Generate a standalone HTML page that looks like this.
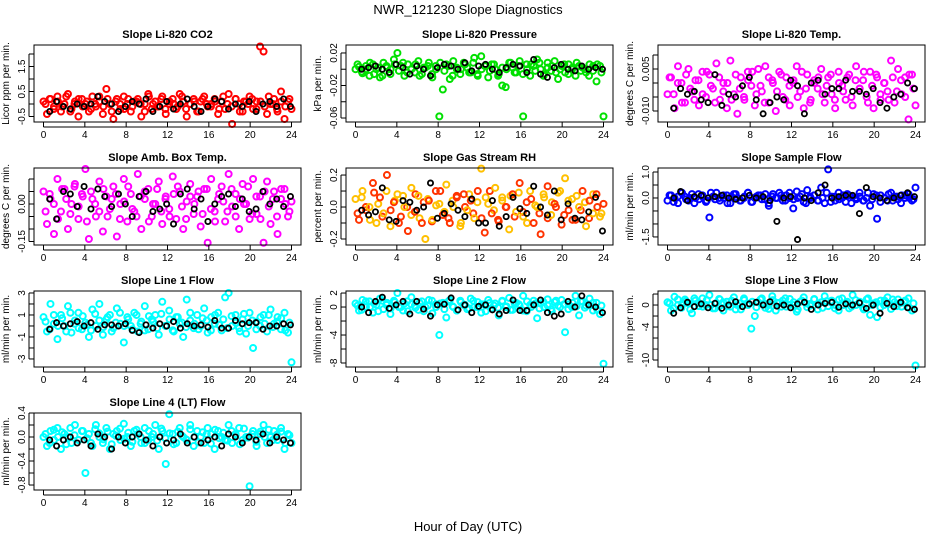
<!DOCTYPE html>
<html><head><meta charset="utf-8">
<style>
html,body{margin:0;padding:0;background:#fff;}
svg{display:block;font-family:"Liberation Sans",sans-serif;}
</style></head>
<body>
<svg id="chart" width="936" height="540" viewBox="0 0 936 540" xmlns="http://www.w3.org/2000/svg">
<text x="468" y="14" text-anchor="middle" font-size="13">NWR_121230  Slope Diagnostics</text>
<text x="468" y="531" text-anchor="middle" font-size="13">Hour of Day (UTC)</text>
</svg>
<script>
const xTicks = [0,4,8,12,16,20,24];
const titles = ["Slope Li-820 CO2","Slope Li-820 Pressure","Slope Li-820 Temp.","Slope Amb. Box Temp.","Slope Gas Stream RH","Slope Sample Flow","Slope Line 1 Flow","Slope Line 2 Flow","Slope Line 3 Flow","Slope Line 4 (LT) Flow"];
const yTitles = ["Licor ppm per min.","kPa per min.","degrees C per min.","degrees C per min.","percent per min.","ml/min per min.","ml/min per min.","ml/min per min.","ml/min per min.","ml/min per min."];
const yMin = [-0.72,-0.0649,-0.01393,-0.164,-0.2375,-1.81,-3.73,-8.57,-11.27,-0.883];
const yMax = [2.36,0.0298,0.01357,0.144,0.244,1.154,3.18,2.29,2.55,0.4];
const yTickVals = [
 [-0.5,0,0.5,1,1.5,2],[-0.06,-0.04,-0.02,0,0.02],[-0.01,-0.005,0,0.005,0.01],
 [-0.15,-0.1,-0.05,0,0.05,0.1],[-0.2,-0.1,0,0.1,0.2],[-1.5,-1,-0.5,0,0.5,1],
 [-3,-2,-1,0,1,2,3],[-8,-6,-4,-2,0,2],[-10,-8,-6,-4,-2,0,2],[-0.8,-0.6,-0.4,-0.2,0,0.2,0.4]];
const yTickLabels = [
 ["-0.5","","0.5","","1.5",""],["-0.06","","-0.02","","0.02"],["-0.010","","","0.005",""],
 ["-0.15","","","0.00","",""],["-0.2","","0.0","","0.2"],["-1.5","","","0.0","","1.0"],
 ["-3","","-1","","1","","3"],["-8","","-4","","0","2"],["-10","","","-4","","0",""],["-0.8","","-0.4","","0.0","","0.4"]];
const colors = ["#ff0000","#00e000","#ff00ff","#ff00ff","rh","#0000ff","#00ffff","#00ffff","#00ffff","#00ffff"];

const co2 = [0.1,-0.4,0.2,-0.1,0.3,-0.3,0.0,0.4,-0.2,0.1,-0.5,0.2,0.0,-0.3,0.3,-0.1,0.1,-0.4,0.6,0.0,-0.6,0.2,-0.2,0.3,0.0,-0.3,0.1,0.2,-0.5,0.0,0.4,-0.2,0.1,-0.1,0.3,-0.4,0.0,0.2,-0.2,0.4,0.1,-0.5,0.0,0.2,-0.3,0.1,0.3,-0.1,0.0,0.2,-0.4,0.1,-0.2,0.4,-0.8,0.2,0.0,-0.3,0.1,0.3,-0.2,0.1,2.3,2.1,-0.4,0.0,0.2,-0.3,0.5,-0.6,0.1,-0.2];
const co2B = [0.0,0.2,-0.2,0.1,-0.1,0.3,-0.3,0.0,0.2,-0.1,0.1,-0.2,0.0,0.3,-0.1,0.2,-0.3,0.1,0.0,-0.2,0.2,-0.1,0.1,0.0,-0.3,0.3,0.0,-0.1,0.2,-0.2,0.1,0.0,-0.1,0.3,-0.2,0.0,0.1,-0.3,0.2,0.0,-0.1,0.1,-0.2,0.3,0.0,-0.1,0.2,-0.3,0.1,0.0,0.2,-0.2,0.1,-0.1,0.3,0.0,-0.2,0.1,-0.1,0.2];
const co2K = [-0.3,0.1,-0.1,-0.2,0.0,-0.1,0.0,0.3,0.1,0.0,-0.3,-0.1,0.1,0.0,0.2,-0.3,-0.1,0.1,-0.2,0.0,0.2,-0.1,-0.3,-0.1,0.2,0.1,-0.2,0.0,-0.1,0.1,-0.3,0.0,0.1,-0.1,0.2,-0.1];
const press = [0.0,0.003,-0.005,0.004,-0.008,0.006,0.0,-0.01,0.008,0.002,-0.006,0.012,0.02,0.004,-0.008,0.006,0.0,-0.004,0.01,-0.006,0.002,0.008,-0.01,0.004,-0.058,-0.025,0.006,-0.012,0.01,0.0,-0.006,0.008,0.002,-0.004,0.014,-0.008,0.016,0.004,-0.01,0.006,0.0,-0.006,-0.02,-0.022,0.008,0.002,-0.004,0.01,-0.058,0.006,-0.008,0.004,0.012,0.0,-0.006,0.008,-0.002,0.01,-0.012,0.004,-0.004,0.006,0.0,-0.008,0.004,0.002,-0.004,0.006,-0.002,-0.015,0.004,-0.058];
const pressB = [0.006,-0.003,0.0,0.008,-0.006,0.002,-0.008,0.004,0.0,0.006,-0.002,0.008,-0.004,0.0,0.006,-0.008,0.002,0.004,-0.006,0.0,0.008,-0.002,0.004,-0.008,0.002,0.0,0.006,-0.004,0.008,-0.006,0.0,0.004,-0.002,0.006,-0.008,0.002,0.0,0.008,-0.004,0.004,-0.006,0.0,0.006,-0.002,0.008,-0.008,0.002,0.004,-0.004,0.0,0.006,-0.006,0.002,0.008,-0.002,0.0,-0.008,0.004,0.006,-0.004];
const pressK = [0.0,0.002,0.004,0.0,-0.004,0.006,0.002,-0.006,0.004,0.0,-0.008,0.002,0.006,0.004,0.0,0.008,-0.002,0.004,0.006,0.0,-0.004,0.002,0.006,0.004,-0.004,0.012,-0.006,-0.01,0.002,0.006,0.0,-0.002,0.004,0.0,0.002,0.0];
const temp = [-0.004,0.002,-0.009,0.006,0.0,-0.007,0.005,-0.003,0.001,-0.008,0.004,-0.005,0.003,-0.002,0.007,-0.006,0.0,-0.009,0.008,-0.004,-0.011,0.002,-0.006,0.004,-0.001,-0.008,0.005,-0.003,0.006,-0.007,0.001,-0.010,0.004,-0.005,0.002,-0.008,0.0,0.006,-0.003,-0.009,0.003,-0.006,0.001,-0.002,0.005,-0.007,0.002,-0.004,-0.009,0.004,-0.001,-0.006,0.003,-0.008,0.006,-0.002,0.001,-0.005,0.004,-0.009,0.002,-0.006,0.0,-0.003,0.008,-0.007,0.005,-0.004,0.002,-0.013,0.003,-0.008];
const tempB = [0.002,-0.004,0.0,-0.007,0.003,-0.002,-0.006,0.001,-0.004,0.004,-0.001,-0.007,0.002,-0.003,0.0,-0.006,0.003,-0.002,-0.005,0.001,0.004,-0.004,-0.001,-0.007,0.002,0.0,-0.003,0.003,-0.006,-0.001,0.001,-0.005,0.004,-0.002,-0.007,0.0,0.002,-0.004,-0.001,0.003,-0.006,0.0,-0.003,0.002,-0.005,0.001,-0.002,0.004,-0.007,-0.001,0.003,-0.004,0.0,-0.006,0.002,-0.003,0.001,-0.005,0.003,-0.002];
const tempK = [-0.009,-0.002,-0.004,-0.003,-0.006,-0.007,0.003,-0.008,-0.004,-0.005,-0.001,0.002,-0.006,-0.011,-0.007,-0.005,-0.006,0.001,-0.001,-0.011,0.0,0.001,-0.004,-0.002,-0.002,0.001,-0.003,-0.003,-0.004,-0.002,-0.007,-0.009,-0.005,-0.004,0.0,-0.002];
const amb = [0.05,-0.08,0.02,-0.12,0.1,-0.03,0.06,-0.1,0.0,0.08,-0.06,0.04,0.14,-0.14,0.02,-0.05,0.09,-0.11,0.03,-0.02,0.07,-0.13,0.0,0.1,-0.07,0.04,-0.03,0.12,-0.1,0.02,0.06,-0.05,0.0,0.09,-0.08,0.03,-0.02,0.11,-0.06,0.05,-0.1,0.01,0.08,-0.04,0.03,-0.09,0.06,-0.155,0.1,-0.03,0.02,0.07,-0.07,0.12,-0.01,0.04,-0.1,0.08,0.0,-0.06,0.1,-0.04,0.03,-0.155,0.09,-0.08,0.05,-0.12,0.02,0.06,-0.05,0.01];
const ambB = [-0.03,0.04,0.0,-0.06,0.06,0.02,-0.04,0.07,-0.01,0.03,-0.07,0.05,0.0,-0.03,0.06,-0.05,0.02,0.04,-0.06,0.01,0.07,-0.02,-0.05,0.03,0.05,-0.07,0.0,0.06,-0.03,0.02,-0.05,0.04,0.07,-0.01,-0.06,0.03,0.0,0.05,-0.04,0.06,-0.02,-0.07,0.04,0.01,-0.03,0.06,-0.05,0.02,0.0,0.07,-0.04,0.03,-0.06,0.05,-0.01,0.02,-0.05,0.06,0.0,-0.03];
const ambK = [0.02,-0.06,0.05,0.04,-0.01,0.07,-0.02,0.06,0.03,-0.01,0.04,0.0,-0.05,0.03,0.05,-0.03,-0.02,0.0,-0.08,0.04,0.06,-0.02,0.02,-0.07,0.0,0.03,0.04,-0.01,0.02,-0.03,-0.02,0.05,0.0,0.02,-0.01,0.03];
const rh = [0.05,-0.08,0.1,-0.02,0.0,0.15,-0.1,0.06,-0.04,0.2,-0.12,0.03,0.08,-0.06,0.0,-0.15,0.12,-0.03,0.07,-0.1,-0.2,0.04,-0.08,0.1,0.02,-0.05,0.14,-0.1,0.0,0.06,-0.12,0.08,-0.02,0.04,-0.07,0.1,0.24,-0.16,0.02,-0.04,0.12,-0.09,0.06,0.0,-0.14,0.08,-0.03,0.15,-0.06,0.03,0.1,-0.1,0.0,-0.17,0.06,0.13,-0.05,0.02,0.09,-0.11,0.18,-0.02,0.05,-0.08,0.0,0.1,-0.12,0.04,-0.04,0.08,-0.06,0.02];
const rhB = [-0.04,0.06,0.0,-0.08,0.09,0.02,-0.06,0.1,-0.02,0.04,-0.1,0.07,0.0,-0.05,0.08,-0.07,0.03,0.05,-0.09,0.01,0.1,-0.03,-0.07,0.04,0.07,-0.1,0.0,0.08,-0.04,0.03,-0.07,0.06,0.1,-0.02,-0.08,0.04,0.0,0.07,-0.06,0.09,-0.03,-0.1,0.05,0.01,-0.04,0.08,-0.07,0.03,0.0,0.1,-0.05,0.04,-0.08,0.07,-0.02,0.03,-0.07,0.08,0.0,-0.04];
const rhK = [-0.02,-0.05,-0.03,0.12,-0.08,-0.09,0.04,0.03,-0.02,0.0,0.15,-0.07,-0.04,0.02,-0.02,-0.06,0.05,-0.1,-0.1,0.04,-0.12,-0.06,0.06,-0.01,-0.04,0.13,0.0,-0.05,0.1,-0.08,0.02,-0.07,-0.08,-0.03,0.06,-0.15];
const sflow = [-0.1,0.1,0.0,-0.2,0.2,0.05,-0.1,0.15,0.0,-0.05,0.1,-0.15,-0.75,0.05,0.2,-0.1,0.0,0.1,-0.2,0.15,0.0,-0.1,0.05,0.2,-0.15,0.0,0.1,-0.05,0.15,-0.3,0.05,0.0,0.2,-0.1,0.1,0.0,-0.4,0.25,0.05,-0.15,0.3,0.0,0.1,-0.1,0.4,-0.2,1.1,0.05,-0.1,0.2,0.0,-0.15,0.1,0.05,-0.05,0.2,-0.1,0.0,-0.3,0.15,-0.8,0.1,0.0,-0.1,0.2,0.05,-0.05,0.1,0.0,0.15,-0.1,0.4];
const sflowB = [0.1,-0.15,0.05,0.2,-0.05,0.0,-0.2,0.15,0.05,-0.1,0.2,-0.05,0.0,0.1,-0.2,0.05,0.15,-0.1,0.0,0.2,-0.15,0.05,0.1,-0.05,-0.2,0.15,0.0,0.1,-0.1,0.2,-0.05,0.0,0.15,-0.2,0.05,0.1,-0.1,0.0,0.2,-0.15,0.05,-0.05,0.1,0.15,-0.2,0.0,0.05,-0.1,0.2,-0.05,0.1,-0.15,0.0,0.15,-0.1,0.05,-0.2,0.1,0.0,-0.05];
const sflowK = [0.0,0.25,-0.1,0.05,0.1,0.0,0.05,0.1,0.0,-0.05,0.0,0.1,0.0,0.05,-0.1,-0.9,0.0,0.05,-1.6,0.0,-0.1,0.2,0.5,0.0,0.05,0.1,0.1,-0.6,0.4,0.05,0.0,-0.1,0.0,0.1,0.2,0.05];
const l1 = [0.8,-0.5,2.0,0.2,-1.2,1.0,0.0,1.8,-0.6,0.5,1.2,-0.3,0.3,-1.0,1.5,0.0,2.0,-0.8,0.6,1.0,-0.2,1.6,0.2,-1.5,0.8,0.0,1.2,-0.5,0.4,1.8,-0.3,0.6,1.0,-0.8,2.2,0.0,1.4,-0.4,0.8,0.2,-1.0,2.4,0.5,-0.2,1.0,0.0,1.6,-0.6,0.8,0.2,1.2,-0.4,2.6,3.0,0.0,1.0,-0.2,0.6,-0.7,1.2,-2.0,0.4,0.0,1.0,-0.5,1.5,0.2,0.8,-0.3,1.2,-0.6,-3.3];
const l1B = [0.4,-0.3,1.0,0.0,0.7,-0.5,1.2,0.2,-0.2,0.9,0.1,-0.4,1.1,0.5,-0.1,0.8,-0.5,0.3,1.2,0.0,0.6,-0.3,1.0,0.2,-0.4,0.9,0.4,-0.2,1.1,0.0,0.6,-0.5,0.8,0.3,-0.1,1.2,0.2,-0.3,0.7,0.5,-0.4,1.0,0.1,0.6,-0.2,0.9,0.3,-0.5,1.1,0.0,0.5,-0.3,0.8,0.2,1.0,-0.1,0.4,0.7,-0.4,0.3];
const l1K = [-0.3,0.3,0.0,0.2,0.4,0.0,0.3,-0.3,0.1,0.1,0.0,0.2,-0.4,-0.6,0.1,-0.2,0.2,0.0,0.4,-0.2,0.2,0.0,0.1,-0.1,0.5,-0.2,-0.2,0.5,0.2,0.3,0.3,-0.3,0.0,0.0,0.2,0.1];
const l2 = [0.5,-0.5,1.0,0.0,0.8,-0.8,0.3,1.2,-0.3,0.6,-1.0,0.9,2.0,0.0,0.5,-0.6,1.4,0.2,-0.4,0.8,0.0,1.0,-0.9,0.4,-4.0,0.6,-1.5,1.0,0.0,-0.5,0.9,0.3,-0.3,1.2,0.0,0.7,-0.8,0.4,1.0,-0.2,0.5,-1.2,0.8,0.0,1.3,-0.4,0.6,0.2,1.6,-0.6,0.3,0.9,-1.6,0.5,0.0,1.1,-0.3,0.7,0.2,1.0,-3.6,0.4,0.0,1.6,-1.2,0.8,0.2,1.2,-0.5,0.6,-1.0,-8.1];
const l2B = [0.2,-0.4,0.8,0.0,0.5,-0.6,0.9,0.3,-0.2,0.7,0.0,-0.5,0.8,0.4,-0.1,0.6,-0.6,0.2,0.9,0.0,0.5,-0.3,0.8,0.1,-0.5,0.7,0.3,-0.2,0.9,0.0,0.4,-0.6,0.6,0.2,-0.1,0.9,0.1,-0.4,0.5,0.4,-0.5,0.8,0.0,0.5,-0.2,0.7,0.2,-0.6,0.9,0.0,0.4,-0.3,0.6,0.1,0.8,-0.1,0.3,0.6,-0.4,0.2];
const l2K = [0.0,-0.8,0.8,1.4,-0.2,0.3,0.8,-1.0,0.8,-0.3,-1.3,0.3,0.4,1.3,-0.4,0.3,-0.8,0.1,0.3,-0.4,-1.0,-0.5,1.0,-0.5,-0.5,0.3,1.0,-0.8,-1.3,-1.0,0.8,0.0,1.6,0.3,0.0,-0.8];
const l3 = [0.5,-1.0,1.5,0.0,-0.5,1.0,0.3,-1.5,0.8,-0.2,1.2,0.0,1.8,-0.6,0.4,1.0,-1.0,0.6,-0.3,1.4,0.0,-0.8,0.9,0.2,-4.3,-2.0,0.5,1.2,-0.5,0.0,1.6,-1.0,0.4,0.8,-0.3,1.1,0.0,-1.2,0.6,1.4,-0.4,0.2,1.0,-0.8,0.5,1.6,-0.2,0.8,0.0,-1.0,1.2,0.4,-0.6,1.8,0.0,0.6,-0.5,1.0,-1.8,0.3,-2.2,0.8,0.0,1.4,-0.7,0.5,1.0,-0.3,0.6,1.2,-1.0,-11.0];
const l3B = [0.3,-0.6,1.0,0.0,0.7,-0.8,1.2,0.4,-0.3,0.9,0.0,-0.6,1.1,0.5,-0.2,0.8,-0.8,0.3,1.2,0.0,0.6,-0.4,1.0,0.2,-0.7,0.9,0.4,-0.3,1.2,0.0,0.5,-0.8,0.8,0.3,-0.1,1.1,0.2,-0.5,0.7,0.5,-0.6,1.0,0.0,0.6,-0.3,0.9,0.3,-0.8,1.2,0.0,0.5,-0.4,0.8,0.2,1.0,-0.2,0.4,0.8,-0.5,0.3];
const l3K = [-1.5,-0.5,0.5,-0.3,0.2,-0.5,0.3,-0.6,0.0,0.6,-0.3,0.2,0.5,0.0,0.6,-0.2,0.0,-0.5,0.2,0.5,-0.8,0.0,0.3,0.5,-0.4,0.2,0.0,0.4,-0.6,0.0,-1.5,0.3,-0.3,0.5,-0.5,-0.8];
const l4 = [0.0,-0.15,0.1,-0.05,0.15,-0.2,0.05,0.0,-0.1,0.2,-0.05,0.1,-0.6,0.05,-0.15,0.2,0.0,-0.1,0.15,-0.2,0.05,0.1,-0.05,0.22,0.0,-0.15,0.1,0.05,-0.1,0.15,-0.05,0.0,0.2,-0.2,0.1,-0.45,0.38,0.05,-0.1,0.15,0.0,-0.05,0.2,-0.15,0.1,0.0,-0.1,0.15,0.05,-0.2,0.1,0.0,-0.05,0.2,-0.1,0.05,0.15,-0.05,0.0,-0.82,0.1,-0.15,0.05,0.2,-0.1,0.0,0.1,-0.05,0.15,-0.2,0.05,-0.1];
const l4B = [0.05,-0.1,0.12,0.0,0.08,-0.12,0.15,0.03,-0.05,0.1,-0.02,-0.1,0.13,0.06,-0.04,0.09,-0.12,0.02,0.14,-0.03,0.07,-0.08,0.12,0.0,-0.1,0.1,0.05,-0.06,0.14,-0.02,0.06,-0.12,0.09,0.02,-0.04,0.13,0.0,-0.09,0.08,0.05,-0.11,0.12,-0.02,0.07,-0.06,0.1,0.03,-0.12,0.14,-0.01,0.05,-0.08,0.09,0.0,0.12,-0.05,0.04,0.09,-0.1,0.03];
const l4K = [-0.05,-0.15,-0.05,0.0,-0.1,-0.05,-0.15,0.05,0.0,-0.2,0.0,-0.1,0.0,0.05,-0.05,-0.15,0.0,-0.1,-0.05,0.05,-0.1,0.0,-0.1,-0.05,0.0,-0.15,0.05,0.0,-0.1,0.0,-0.05,0.05,-0.1,0.0,-0.05,-0.1];

const colSeries = [co2,press,temp,amb,rh,sflow,l1,l2,l3,l4];
const bandSeries = [co2B,pressB,tempB,ambB,rhB,sflowB,l1B,l2B,l3B,l4B];
const blkSeries = [co2K,pressK,tempK,ambK,rhK,sflowK,l1K,l2K,l3K,l4K];

const NS = "http://www.w3.org/2000/svg";
const svg = document.getElementById('chart');
function mk(tag, attrs, parent){
  const e = document.createElementNS(NS, tag);
  for (const k in attrs) e.setAttribute(k, attrs[k]);
  (parent||svg).appendChild(e);
  return e;
}
const colLeft = [34,346,658];
const rowTop = [45,168,291,413];
const rowBot = [122,245,367,490];
const W = 267;

for (let p = 0; p < titles.length; p++) {
  const L = colLeft[p%3], T = rowTop[Math.floor(p/3)], B = rowBot[Math.floor(p/3)];
  const g = mk('g', {});
  
  
  const xs = h => L + 9.5 + h/24*(W-19);
  const ys = v => B - (v - yMin[p])/(yMax[p]-yMin[p])*(B-T);
  const t = mk('text', {x: L+W/2, y: T-7, 'text-anchor':'middle','font-size':11,'font-weight':'bold'}, g);
  t.textContent = titles[p];
  
  
  const yt = mk('text', {x:0, y:0, 'text-anchor':'middle','font-size':10, transform:`translate(${L-25},${(T+B)/2}) rotate(-90)`}, g);
  yt.textContent = yTitles[p];
  
  
  const colorAt = i => { const c = colors[p]; return c === 'rh' ? ((i%2) ? '#ff3300' : '#ffc000') : c; };
  const bs2 = bandSeries[p];
  bs2.forEach((v,i) => {
    const h = 0.2 + i*23.6/(bs2.length-1);
    const pt = mk('circle', {cx: xs(h), cy: ys(v), r: 3, fill:'none', stroke: colorAt(i+1), 'stroke-width': 2}, g);
    
    
  });
  const cs = colSeries[p];
  cs.forEach((v,i) => {
    const h = i*24/(cs.length-1);
    const pt = mk('circle', {cx: xs(h), cy: ys(v), r: 3, fill:'none', stroke: colorAt(i), 'stroke-width': 2}, g);
    
    
  });
  const bs = blkSeries[p];
  bs.forEach((v,i) => {
    const h = 0.6 + i*23.3/(bs.length-1);
    const pt = mk('circle', {cx: xs(h), cy: ys(v), r: 2.6, fill:'none', stroke: '#000', 'stroke-width': 1.8}, g);
    
    
  });
  const box = mk('rect', {x:L, y:T, width:W, height:B-T, fill:'none', stroke:'#000', 'stroke-width':1}, g);
  
  
  xTicks.forEach(h => {
    mk('line', {x1:xs(h), x2:xs(h), y1:B, y2:B+5, stroke:'#000'}, g);
    const lb = mk('text', {x: xs(h), y: B+16, 'text-anchor':'middle','font-size':10}, g);
    lb.textContent = h;
    
    
  });
  mk('line', {x1:xs(0), x2:xs(24), y1:B+5, y2:B+5, stroke:'#000'}, g);
  const tv = yTickVals[p];
  tv.forEach((v,i) => {
    mk('line', {x1:L-5, x2:L, y1:ys(v), y2:ys(v), stroke:'#000'}, g);
    if (yTickLabels[p][i]) {
      const lb = mk('text', {x:0, y:0, 'text-anchor':'middle','font-size':10, transform:`translate(${L-9},${ys(v)}) rotate(-90)`}, g);
      lb.textContent = yTickLabels[p][i];
      
      
    }
  });
  mk('line', {x1:L-5, x2:L-5, y1:ys(tv[0]), y2:ys(tv[tv.length-1]), stroke:'#000'}, g);
}
</script>
</body></html>
